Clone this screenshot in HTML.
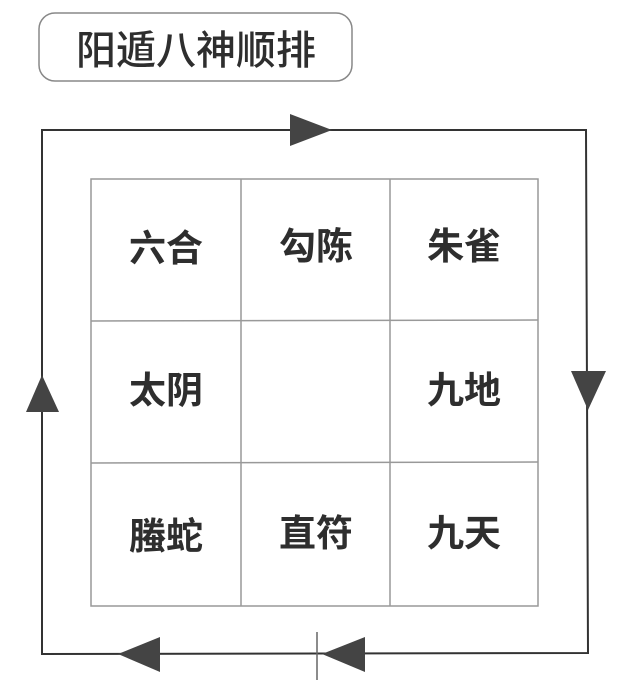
<!DOCTYPE html>
<html><head><meta charset="utf-8"><style>
body{margin:0;background:#fff;width:640px;height:684px;overflow:hidden}
svg text{font-family:"Liberation Sans","Noto Sans CJK SC",sans-serif;font-weight:bold;fill:#2e2e2e}
</style></head><body>
<svg width="640" height="684" viewBox="0 0 640 684">
<rect x="39" y="13" width="313" height="68" rx="16" fill="none" stroke="#888" stroke-width="1.5"/>
<text x="196" y="64" font-size="40" text-anchor="middle" fill="#3a3a3a" style="font-weight:500">阳遁八神顺排</text>
<g stroke="#333" stroke-width="2" fill="none">
<polyline points="42,655 42,130 586,130 588,653 42,654"/>
</g>
<line x1="317" y1="632" x2="317" y2="680" stroke="#666" stroke-width="1.5"/>
<g fill="#444">
<polygon points="290,114 290,146 332,130"/>
<polygon points="571,371 606,371 588,410"/>
<polygon points="26,412 59,412 42,375"/>
<polygon points="160,637 160,672 118,654"/>
<polygon points="365,637 365,672 322,654"/>
</g>
<g stroke="#999" stroke-width="1.5" fill="none">
<rect x="91" y="179" width="447" height="427"/>
<line x1="241" y1="179" x2="241" y2="606"/>
<line x1="390" y1="179" x2="390" y2="606"/>
<line x1="91" y1="321" x2="538" y2="320"/>
<line x1="91" y1="463" x2="538" y2="462"/>
</g>
<g font-size="37" text-anchor="middle">
<text x="166" y="261">六合</text>
<text x="316" y="259">勾陈</text>
<text x="464" y="259">朱雀</text>
<text x="166" y="403">太阴</text>
<text x="464" y="403">九地</text>
<text x="166" y="549">螣蛇</text>
<text x="316" y="546">直符</text>
<text x="464" y="546">九天</text>
</g>
</svg>
</body></html>
